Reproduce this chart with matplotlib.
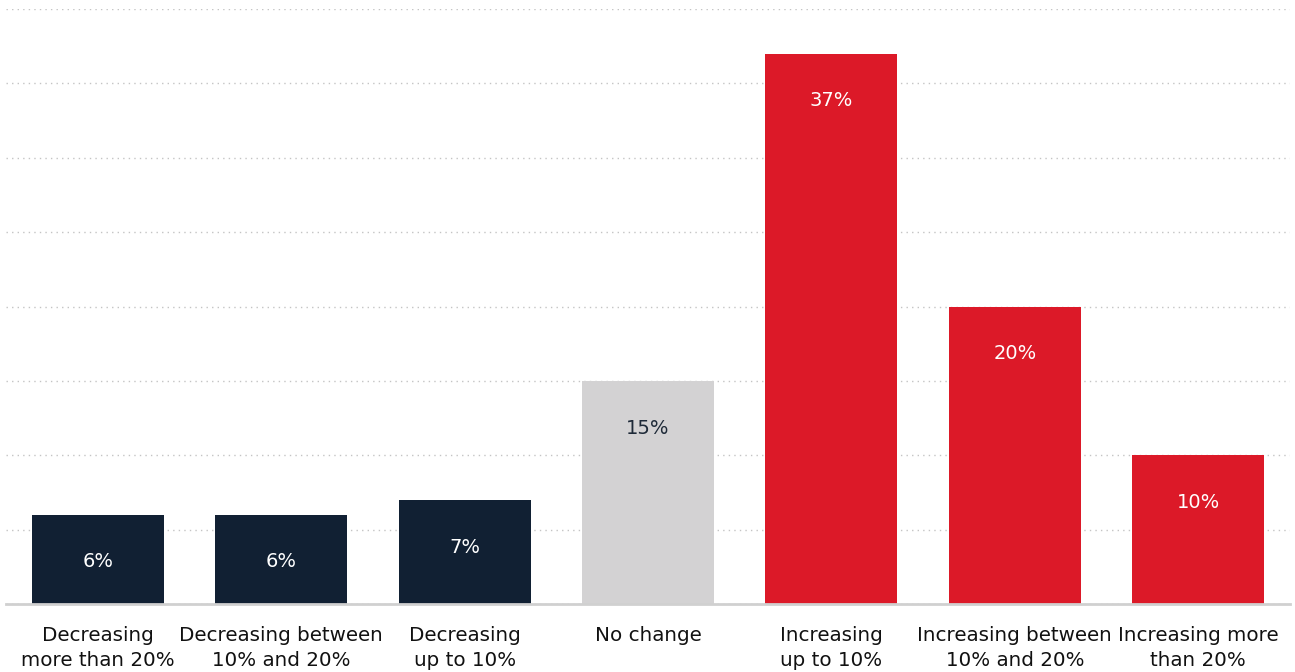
import matplotlib
matplotlib.use("Agg")
import matplotlib.pyplot as plt

categories = ["Decreasing\nmore than 20%", "Decreasing between\n10% and 20%",
              "Decreasing\nup to 10%", "No change", "Increasing\nup to 10%",
              "Increasing between\n10% and 20%", "Increasing more\nthan 20%"]
values = [6, 6, 7, 15, 37, 20, 10]
colors = ["#112033", "#112033", "#112033", "#d3d2d3", "#dc1928", "#dc1928", "#dc1928"]
text_colors = ["white", "white", "white", "#1e2a38", "white", "white", "white"]

plt.rcParams["font.family"] = ["DejaVu Sans"]

fig = plt.figure(figsize=(12.95, 6.72), dpi=100)
ax = fig.add_axes([6 / 1295, 1 - 604 / 672, 1284 / 1295, (604 - 9) / 672])

x = range(len(values))
ax.bar(x, values, width=0.72, color=colors, zorder=3)
ax.set_xlim(-0.5, len(values) - 0.5)
ax.set_ylim(0, 40)
ax.set_yticks(range(0, 41, 5))
ax.yaxis.grid(True, linestyle=(0, (1, 3)), color="#c4c4c4", linewidth=1, zorder=0)
ax.tick_params(axis="y", left=False, labelleft=False)
ax.tick_params(axis="x", length=0, pad=16, labelsize=14.3, labelcolor="#111111")
ax.set_xticks(list(x))
ax.set_xticklabels(categories, linespacing=1.38)
for s in ["top", "right", "left"]:
    ax.spines[s].set_visible(False)
ax.spines["bottom"].set_color("#d0d0d0")
ax.spines["bottom"].set_linewidth(2)
ax.spines["bottom"].set_zorder(4)

for i, v in enumerate(values):
    ax.annotate(f"{v}%", (i, v), xytext=(0, -34), textcoords="offset points",
                ha="center", va="center", color=text_colors[i], fontsize=14, zorder=5)

fig.savefig("out.png")
